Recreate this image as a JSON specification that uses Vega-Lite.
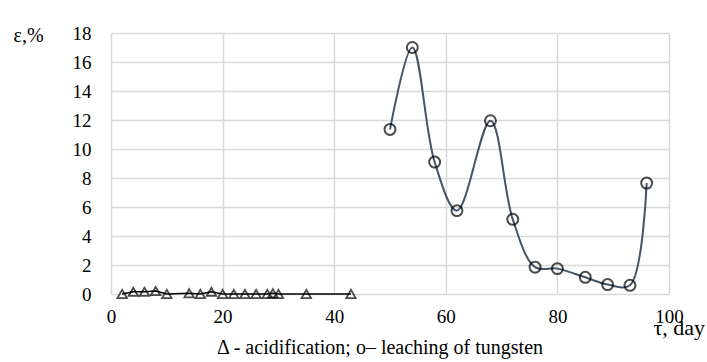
{
  "$schema": "https://vega.github.io/schema/vega-lite/v6.json",
  "autosize": "none",
  "width": 558,
  "height": 261,
  "padding": {"left": 111, "top": 33, "right": 38, "bottom": 68},
  "background": "white",
  "config": {
    "font": "Liberation Serif",
    "view": {"stroke": null},
    "axis": {"labelFont": "Liberation Serif", "titleFont": "Liberation Serif", "labelFontSize": 19, "labelColor": "#000", "titleColor": "#000", "titleFontWeight": "normal", "titleFontSize": 20, "gridColor": "#d9d9d9", "gridWidth": 1.5, "ticks": false, "domain": false}
  },
  "title": {"text": "Δ - acidification; o– leaching of tungsten", "orient": "bottom", "anchor": "middle", "font": "Liberation Serif", "fontSize": 20, "fontWeight": "normal", "color": "#000", "offset": 0, "dx": -10},
  "datasets": {
    "acid": [
      {"t": 2, "e": 0}, {"t": 4, "e": 0.15}, {"t": 6, "e": 0.15}, {"t": 8, "e": 0.2}, {"t": 10, "e": 0},
      {"t": 14, "e": 0.05}, {"t": 16, "e": 0}, {"t": 18, "e": 0.15}, {"t": 20, "e": 0}, {"t": 22, "e": 0},
      {"t": 24, "e": 0}, {"t": 26, "e": 0}, {"t": 28, "e": 0}, {"t": 29, "e": 0.05}, {"t": 30, "e": 0},
      {"t": 35, "e": 0}, {"t": 43, "e": 0}
    ],
    "leach": [
      {"t": 50, "e": 11.35}, {"t": 54, "e": 17.0}, {"t": 58, "e": 9.1}, {"t": 62, "e": 5.75},
      {"t": 68, "e": 11.95}, {"t": 72, "e": 5.15}, {"t": 76, "e": 1.85}, {"t": 80, "e": 1.75},
      {"t": 85, "e": 1.15}, {"t": 89, "e": 0.65}, {"t": 93, "e": 0.6}, {"t": 96, "e": 7.65}
    ]
  },
  "encoding": {
    "x": {"field": "t", "type": "quantitative", "scale": {"domain": [0, 100]},
      "axis": {"values": [0, 20, 40, 60, 80, 100], "title": "τ, day", "labelFont": "Liberation Serif", "labelPadding": 13, "titleFontSize": 22, "titleAnchor": "end", "titleAlign": "left", "titleX": 542, "titleY": 40, "titleBaseline": "alphabetic", "labelFlush": false}},
    "y": {"field": "e", "type": "quantitative", "scale": {"domain": [0, 18]},
      "axis": {"values": [0, 2, 4, 6, 8, 10, 12, 14, 16, 18], "title": "ε,%", "labelFont": "Liberation Serif", "labelPadding": 20, "titleAngle": 0, "titleAlign": "left", "titleX": -98, "titleY": 8, "titleBaseline": "alphabetic"}}
  },
  "layer": [
    {"data": {"name": "acid"}, "mark": {"type": "line", "color": "#000", "strokeWidth": 1.5}},
    {"data": {"name": "acid"}, "mark": {"type": "point", "shape": "triangle-up", "size": 90, "filled": false, "stroke": "#000", "strokeWidth": 1.8}},
    {"data": {"name": "leach"}, "mark": {"type": "line", "color": "#44546A", "strokeWidth": 2, "interpolate": "catmull-rom"}},
    {"data": {"name": "leach"}, "mark": {"type": "point", "shape": "circle", "size": 120, "filled": false, "stroke": "#000", "strokeWidth": 2}}
  ]
}
